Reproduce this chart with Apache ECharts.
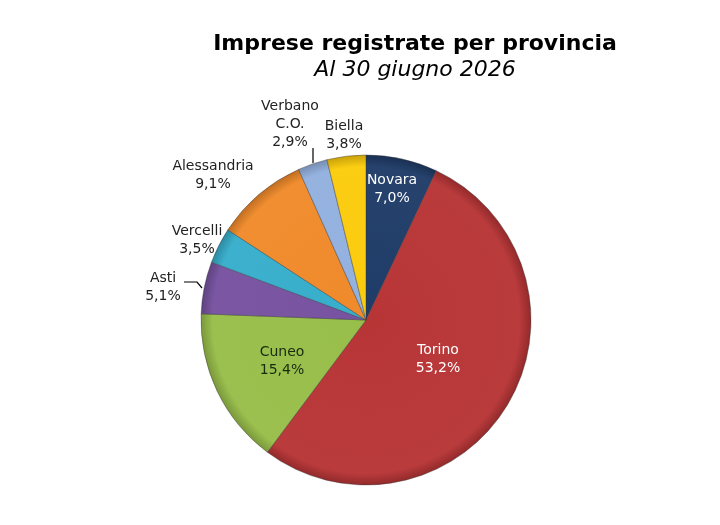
<!DOCTYPE html>
<html><head><meta charset="utf-8">
<script src="https://cdn.jsdelivr.net/npm/echarts@6/dist/echarts.min.js"></script>
<style>html,body{margin:0;padding:0;background:#fff}#c{width:720px;height:525px}</style>
</head><body><div id="c"></div>
<script>
const provinces = ['Novara','Torino','Cuneo','Asti','Vercelli','Alessandria','Verbano\nC.O.','Biella'];
const shares = [7.0, 53.2, 15.4, 5.1, 3.5, 9.1, 2.9, 3.8];
const colors = ['#1F3C68','#B83536','#98BE4A','#7752A0','#37AECB','#F08A2B','#93B1DF','#FBCB0C'];
const labelColors = ['#ffffff','#ffffff','#1a2a10','#222','#222','#222','#222','#222'];
// label anchor positions (text centres) and optional leader lines
const labelPos = [[392,189],[438,359],[282,361],[163,287],[197,240],[213,175],[290,124],[344,135]];
const leader = {3:[[202,288],[197,282],[184,282]], 6:[[313,163],[313,155],[313,148]]};

const CX=366, CY=320, R=165;
function shade(hex, f){
  const n=parseInt(hex.slice(1),16);let r=n>>16,g=(n>>8)&255,b=n&255;
  const m=c=>Math.max(0,Math.min(255,Math.round(f<0?c*(1+f):c+(255-c)*f)));
  return 'rgb('+m(r)+','+m(g)+','+m(b)+')';
}

const data = provinces.map((p,i)=>({
  name:p, value:shares[i],
  itemStyle:{color:{type:'radial',x:CX,y:CY,r:R,global:true,colorStops:[
    {offset:0,color:colors[i]},
    {offset:0.93,color:shade(colors[i],0.03)},
    {offset:1,color:shade(colors[i],-0.2)}]}},
  label:{color:labelColors[i]},
  labelLine:{show:!!leader[i]}
}));

const chart = echarts.init(document.getElementById('c'));
chart.setOption({
  animation:false,
  title:{
    text:'Imprese registrate per provincia',
    subtext:'Al 30 giugno 2026',
    left:410, top:28, textAlign:'center',
    textStyle:{fontFamily:'DejaVu Sans',fontWeight:'bold',fontSize:22,color:'#000'},
    subtextStyle:{fontFamily:'DejaVu Sans',fontStyle:'italic',fontSize:22,color:'#000'},
    itemGap:4
  },
  series:[{
    type:'pie',
    center:[CX,CY],
    radius:[0,R],
    startAngle:90,
    clockwise:true,
    avoidLabelOverlap:false,
    itemStyle:{borderColor:'rgba(50,50,50,0.5)',borderWidth:0.8},
    label:{
      position:'outside',
      fontFamily:'DejaVu Sans',fontSize:14,lineHeight:18,align:'center',
      formatter:p=>p.name+'\n'+p.value.toFixed(1).replace('.',',')+'%'
    },
    labelLine:{length:6,length2:10,lineStyle:{color:'#000',width:1.2}},
    labelLayout:function(params){
      const i=params.dataIndex;
      const o={x:labelPos[i][0],y:labelPos[i][1],align:'center',verticalAlign:'middle'};
      if(leader[i]) o.labelLinePoints=leader[i];
      return o;
    },
    data:data
  }]
});
</script></body></html>
